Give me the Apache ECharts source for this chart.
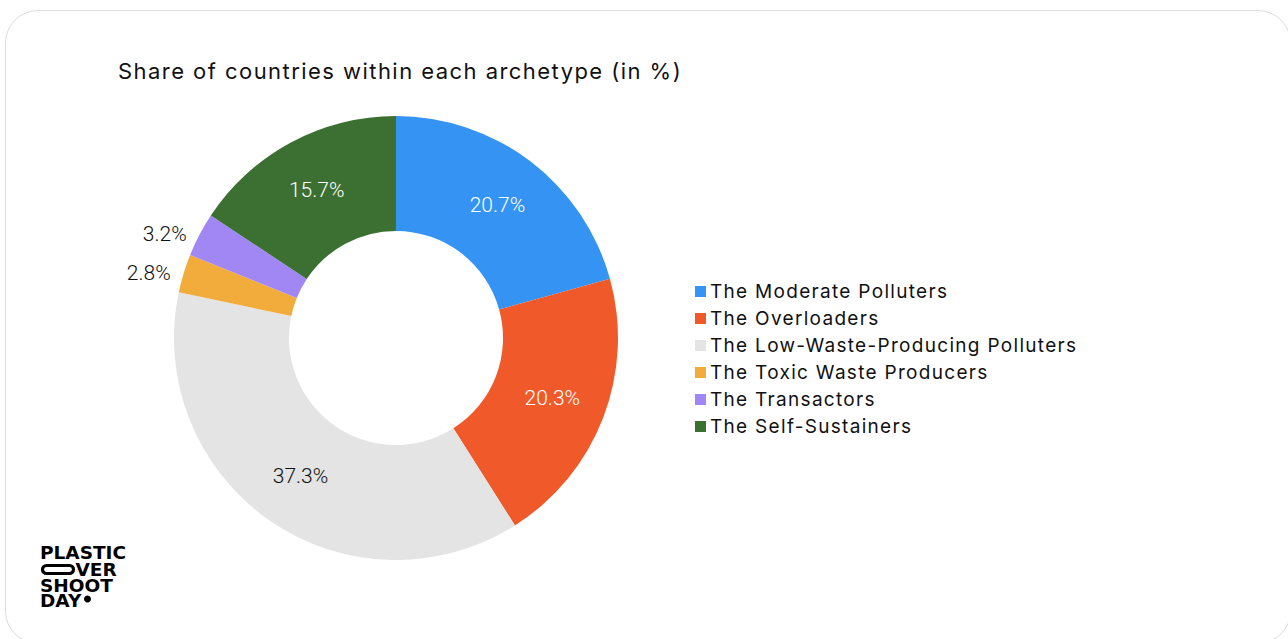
<!DOCTYPE html>
<html>
<head>
<meta charset="utf-8">
<script src="https://cdn.jsdelivr.net/npm/echarts@6/dist/echarts.min.js"></script>
<style>
  html, body { margin: 0; padding: 0; background: #fff; overflow: hidden; }
  .card {
    position: absolute; left: 5px; top: 10px; width: 1286px; height: 634px;
    border: 1.5px solid #dcdcdc; border-radius: 33px; box-sizing: border-box;
  }
  #chart { position: absolute; left: 0; top: 0; width: 1288px; height: 639px; }
  /* the original typeface is wider-spaced than Inter */
  #chart text[style*="Inter"][style*="22px"] { letter-spacing: 1.45px; }
  #chart text[style*="Inter"][style*="19px"] { letter-spacing: 1.3px; }
</style>
</head>
<body>
<div class="card"></div>
<div id="chart"></div>
<script>
  // archetypes, in drawing order (clockwise from 12 o'clock)
  const archetypes = [
    'The Moderate Polluters',
    'The Overloaders',
    'The Low-Waste-Producing Polluters',
    'The Toxic Waste Producers',
    'The Transactors',
    'The Self-Sustainers'
  ]
  const shares = [20.7, 20.3, 37.3, 2.8, 3.2, 15.7]
  const colors = ['#3593f3', '#f05a2b', '#e4e4e4', '#f2ac3c', '#a087f4', '#3c6f32']
  // slices too thin for an inside label
  const outsideLabels = ['The Toxic Waste Producers', 'The Transactors']
  const darkLabels = ['The Low-Waste-Producing Polluters']

  const myChart = echarts.init(document.getElementById('chart'), null, { renderer: 'svg' })

  const pieData = archetypes.map((name, i) => {
    const item = { name, value: shares[i], itemStyle: { color: colors[i] } }
    if (outsideLabels.includes(name)) {
      item.label = { position: 'outside', color: '#111' }
      item.labelLine = { show: false, length: 2, length2: 6 }
    } else if (darkLabels.includes(name)) {
      item.label = { color: '#111' }
    }
    return item
  })

  // logo lines sit tighter than the font's own line box
  function logoText(text, x, y) {
    return {
      type: 'text', x, y,
      style: {
        text,
        fontFamily: 'DejaVu Sans',
        fontWeight: 'bold',
        fontSize: 18.5,
        lineHeight: 15,
        fill: '#000'
      }
    }
  }

  const option = {
    backgroundColor: 'transparent',
    animation: false,
    title: {
      text: 'Share of countries within each archetype (in %)',
      left: 118,
      top: 60,
      padding: 0,
      textStyle: {
        fontFamily: 'Inter',
        fontSize: 22,
        fontWeight: 400,
        color: '#111'
      }
    },
    legend: {
      orient: 'vertical',
      left: 695,
      top: 282,
      padding: 0,
      icon: 'rect',
      itemWidth: 11,
      itemHeight: 11,
      itemGap: 8,
      data: archetypes,
      textStyle: {
        fontFamily: 'Inter',
        fontSize: 19,
        lineHeight: 19,
        color: '#111',
        padding: [0, 0, 0, -1]
      }
    },
    graphic: [
      {
        type: 'group',
        left: 40,
        top: 543,
        children: [
          logoText('PLASTIC', 0, 0),
          {
            type: 'rect', x: 2.5, y: 20.5,
            shape: { width: 31, height: 8, r: 4 },
            style: { fill: 'none', stroke: '#000', lineWidth: 3.2 }
          },
          logoText('VER', 35.5, 17),
          logoText('SHOOT', 0, 32.5),
          logoText('DAY', 0, 48),
          { type: 'circle', x: 47.5, y: 54, shape: { r: 3.5 }, style: { fill: '#000' } }
        ]
      }
    ],
    series: [
      {
        type: 'pie',
        center: [396, 338],
        radius: [107, 222],
        startAngle: 90,
        clockwise: true,
        avoidLabelOverlap: false,
        label: {
          show: true,
          position: 'inside',
          formatter: (p) => p.value.toFixed(1) + '%',
          fontFamily: 'Roboto',
          fontSize: 21,
          fontWeight: 300,
          color: '#fff'
        },
        labelLine: { show: false },
        emphasis: { disabled: true },
        data: pieData
      }
    ]
  }

  myChart.setOption(option)
</script>
</body>
</html>
